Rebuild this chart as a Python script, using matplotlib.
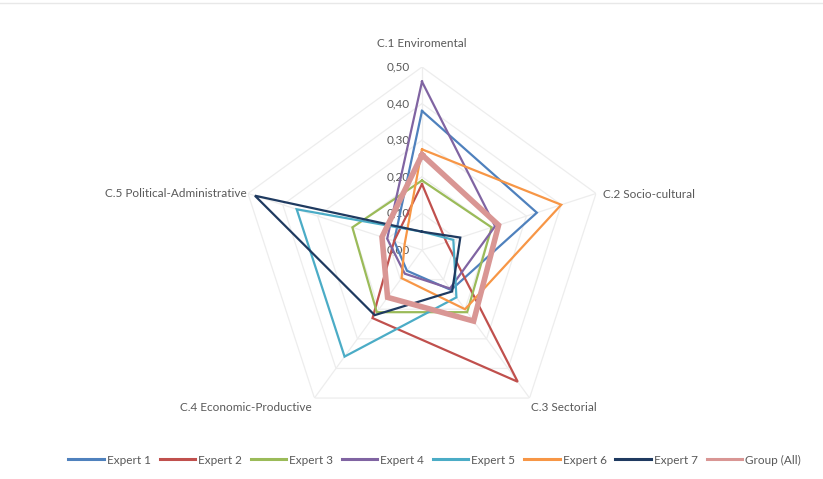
import numpy as np
import matplotlib
matplotlib.use("Agg")
import matplotlib.pyplot as plt

categories = ["C.1 Enviromental", "C.2 Socio-cultural", "C.3 Sectorial",
              "C.4 Economic-Productive", "C.5 Political-Administrative"]
series_names = ["Expert 1", "Expert 2", "Expert 3", "Expert 4", "Expert 5",
                "Expert 6", "Expert 7", "Group (All)"]
expert1 = [0.38, 0.33, 0.135, 0.07, 0.08]
expert2 = [0.18, 0.07, 0.445, 0.23, 0.08]
expert3 = [0.19, 0.20, 0.21, 0.21, 0.20]
expert4 = [0.46, 0.21, 0.13, 0.08, 0.10]
expert5 = [0.05, 0.09, 0.16, 0.36, 0.36]
expert6 = [0.275, 0.40, 0.20, 0.095, 0.05]
expert7 = [0.05, 0.11, 0.14, 0.22, 0.48]
group_all = [0.26, 0.22, 0.24, 0.16, 0.115]
tick_values = [0.0, 0.1, 0.2, 0.3, 0.4, 0.5]
tick_labels = ["0,00", "0,10", "0,20", "0,30", "0,40", "0,50"]

all_series = [expert1, expert2, expert3, expert4, expert5, expert6, expert7, group_all]
colors = ["#4F81BD", "#C0504D", "#9BBB59", "#8064A2", "#4BACC6", "#F79646",
          "#1F3A60", "#D99694"]
widths = [1.6, 1.6, 1.6, 1.6, 1.6, 1.6, 1.6, 4.0]

W, H = 823, 479
fig = plt.figure(figsize=(W / 100, H / 100), dpi=100)
cx, cy, R = 422, 250, 183
ax = fig.add_axes([(cx - R) / W, (H - cy - R) / H, 2 * R / W, 2 * R / H], projection="polar")
ax.set_theta_offset(np.pi / 2)
ax.set_theta_direction(-1)
ax.set_ylim(0, 0.5)
ax.grid(False)
ax.spines["polar"].set_visible(False)
ax.set_xticks([])
ax.set_yticks([])
ax.patch.set_alpha(0)

n = len(categories)
angles = np.linspace(0, 2 * np.pi, n, endpoint=False)
closed = np.concatenate([angles, angles[:1]])

grid_col = "#EDEDED"
for v in tick_values[1:]:
    ax.plot(closed, [v] * (n + 1), color=grid_col, lw=0.9, zorder=1)
for a in angles:
    ax.plot([a, a], [0, 0.5], color=grid_col, lw=0.9, zorder=1)

for name, vals, c, lw in zip(series_names, all_series, colors, widths):
    v = list(vals) + [vals[0]]
    ax.plot(closed, v, color=c, lw=lw, label=name, zorder=3, solid_joinstyle="miter")

font = "Lato"
txt_col = "#595959"
for v, lab in zip(tick_values, tick_labels):
    ax.annotate(lab, xy=(0, v), xytext=(-9, 0), textcoords="offset points",
                ha="right", va="center", fontsize=8.5, color=txt_col, family=font, zorder=2)

label_cfg = [
    ((0, 13), "center", "bottom"),
    ((5, -1), "left", "center"),
    ((1, -3), "left", "top"),
    ((-2, -3), "right", "top"),
    ((-1, 0), "right", "center"),
]
for a, lab, (off, ha, va) in zip(angles, categories, label_cfg):
    ax.annotate(lab, xy=(a, 0.5), xytext=off, textcoords="offset points",
                ha=ha, va=va, fontsize=8.5, color=txt_col, family=font)

leg = fig.legend(loc="center", bbox_to_anchor=(0.528, 1 - 460 / H), ncol=8, frameon=False,
                 handlelength=3.0, handletextpad=0.25, columnspacing=0.75,
                 prop={"family": font, "size": 8.5})
for t in leg.get_texts():
    t.set_color(txt_col)
for h in leg.legend_handles:
    h.set_linewidth(2.2)

fig.add_artist(plt.Line2D([0, 1], [1 - 3 / H, 1 - 3 / H], color="#E8E8E8", lw=1))

fig.savefig("out.png", dpi=100)
